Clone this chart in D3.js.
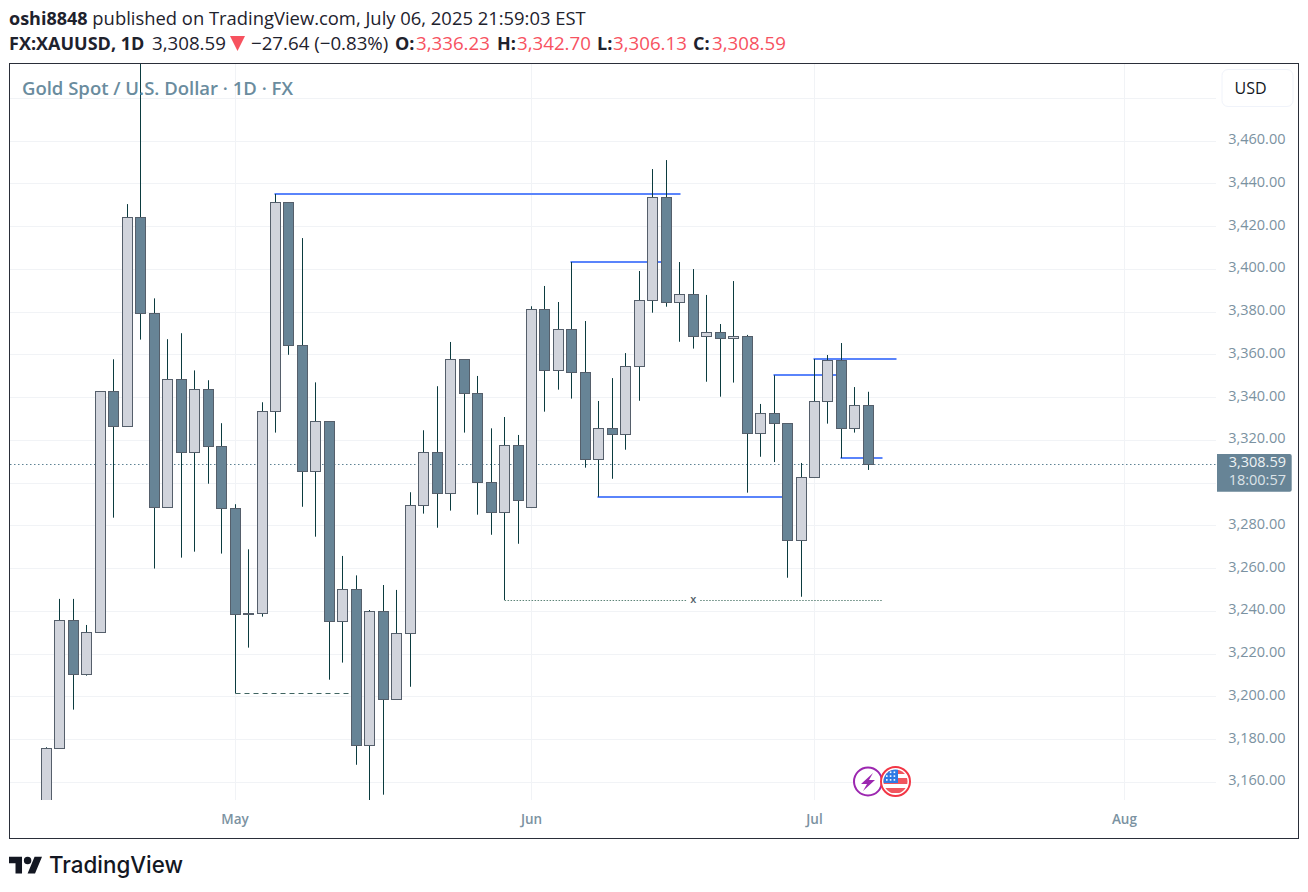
<!DOCTYPE html>
<html>
<head>
<meta charset="utf-8">
<title>XAUUSD 1D</title>
<script src="https://cdn.jsdelivr.net/npm/d3@7/dist/d3.min.js"></script>
<style>
  html, body { margin: 0; padding: 0; background: #fff; }
  svg { display: block; }
  text { font-family: "Open Sans", sans-serif; }
  .domain { display: none; }
</style>
</head>
<body>
<svg id="chart" width="1308" height="892"></svg>
<script>
// daily bars (first bars run off the bottom of the pane)
var opens = [3125, 3175.9, 3235.8, 3210.3, 3230.2, 3342.9, 3326.5, 3424.3, 3379.4, 3288.7,
  3348.5, 3314.4, 3343.9, 3317.2, 3288.2, 3239.2, 3239.1, 3333.6, 3431.3, 3364.4,
  3305.5, 3328.9, 3235.1, 3250.3, 3177.3, 3240, 3198.8, 3229.7, 3289.6, 3314.4,
  3295.2, 3357.9, 3342, 3300.3, 3286.1, 3317.7, 3288.7, 3381.3, 3352.7, 3371.9,
  3351.8, 3311.1, 3325.6, 3322.8, 3354.6, 3385.5, 3433.7, 3384.6, 3388.3, 3368.7,
  3370.5, 3367.7, 3368.7, 3323.3, 3332.6, 3328, 3273.2, 3302.7, 3338.2, 3357.4,
  3325.6, 3336.23];
var highs = [3176.4, 3245.8, 3245.8, 3233.6, 3343, 3357.9, 3430.5, 3500, 3386.4, 3367.3,
  3370.1, 3352.7, 3348.1, 3328, 3290.1, 3269, 3337.8, 3435.2, 3431.3, 3414.6,
  3347.1, 3328.9, 3265.9, 3256.8, 3240.6, 3252.3, 3250, 3295.7, 3324.7, 3345.3,
  3366, 3357.9, 3350.1, 3325.6, 3330.9, 3322.5, 3382.7, 3392.2, 3384.7, 3403.4,
  3375.8, 3338.4, 3349.1, 3360.8, 3399.2, 3446.9, 3451.1, 3403.4, 3400.1, 3388,
  3374.4, 3394.5, 3369.3, 3337, 3350.4, 3328, 3309.4, 3358, 3359.9, 3365.5,
  3344.9, 3342.7];
var lows = [3120, 3175.9, 3194, 3209.9, 3230.2, 3283.8, 3326.5, 3367.1, 3260, 3288.7,
  3265.1, 3267.9, 3299.7, 3267, 3201.6, 3223, 3237.5, 3323.6, 3360, 3288.9,
  3274.9, 3208, 3216, 3168.2, 3120, 3154.2, 3198.8, 3204.7, 3285.7, 3279.1,
  3287.1, 3323.6, 3285.2, 3275.8, 3245.3, 3271.6, 3288.7, 3333.4, 3343.7, 3339.5,
  3307.2, 3293.6, 3302, 3315.6, 3338.5, 3379.7, 3382.5, 3366.1, 3362.9, 3347.4,
  3340.4, 3347, 3295.5, 3312.3, 3309.8, 3255.7, 3246.8, 3302.7, 3327.8, 3311.7,
  3323.6, 3306.13];
var closes = [3175.9, 3235.8, 3210.3, 3230.2, 3342.9, 3326.5, 3424.3, 3379.4, 3288.7, 3348.5,
  3314.4, 3343.9, 3317.2, 3288.2, 3238.6, 3238.6, 3333.6, 3431.3, 3364.4, 3305.5,
  3328.9, 3235.1, 3250.3, 3177.3, 3240, 3198.8, 3229.7, 3289.6, 3314.4, 3295.2,
  3357.9, 3342, 3300.3, 3286.1, 3317.7, 3291.9, 3381.3, 3352.7, 3371.9, 3351.8,
  3311.1, 3325.6, 3322.8, 3354.6, 3385.5, 3433.7, 3384.6, 3388.3, 3368.7, 3370.5,
  3367.7, 3368.7, 3323.3, 3332.6, 3328, 3273.2, 3302.7, 3338.2, 3357.4, 3325.6,
  3336.4, 3308.59];

var gridPrices = [3480, 3460, 3440, 3420, 3400, 3380, 3360, 3340, 3320, 3300, 3280, 3260, 3240, 3220, 3200, 3180, 3160];
var labelPrices = [3460, 3440, 3420, 3400, 3380, 3360, 3340, 3320, 3280, 3260, 3240, 3220, 3200, 3180, 3160];
var monthBars = [14, 36, 57, 80];
var monthNames = ['May', 'Jun', 'Jul', 'Aug'];

// drawn levels: [price, first bar, last bar]
var blueLevels = [[3435.2, 17, 47], [3403.4, 39, 46], [3293.6, 41, 55], [3350.6, 54, 59], [3357.9, 57, 63], [3311.7, 59, 62]];
var dashedLevel = [3201.6, 14, 23];
var dottedLevel = [3245.1, 34, 62];
var lastPrice = 3308.59;
var countdown = '18:00:57';

var svg = d3.select('#chart');
var x = d3.scaleLinear().domain([0, 61]).range([46.4, 868.4]);
var y = d3.scaleLinear().domain([3480, 3160]).range([98.3, 782.3]);
var crisp = function (v) { return Math.floor(v) + 0.5; };
var dataIdx = d3.range(closes.length);

var paneRight = 1216, paneBottom = 800;
svg.append('defs').append('clipPath').attr('id', 'pane')
  .append('rect').attr('x', 10).attr('y', 64).attr('width', paneRight - 10).attr('height', paneBottom - 64);
svg.select('defs').append('clipPath').attr('id', 'flag')
  .append('circle').attr('cx', 895.5).attr('cy', 781.5).attr('r', 12);

// grid goes through the axis generators, ticks stretched across the pane
var yGrid = svg.append('g').attr('transform', 'translate(' + paneRight + ',0)')
  .call(d3.axisLeft(y).tickValues(gridPrices).tickSize(paneRight - 10).tickFormat(''));
yGrid.selectAll('.tick').attr('transform', function (d) { return 'translate(0,' + crisp(y(d)) + ')'; });
yGrid.selectAll('line').attr('stroke', '#f1f3f6');

var xGrid = svg.append('g').attr('transform', 'translate(0,' + paneBottom + ')')
  .call(d3.axisTop(x).tickValues(monthBars).tickSize(paneBottom - 64).tickFormat(''));
xGrid.selectAll('.tick').attr('transform', function (d) { return 'translate(' + crisp(x(d)) + ',0)'; });
xGrid.selectAll('line').attr('stroke', '#f1f3f6');

var pane = svg.append('g').attr('clip-path', 'url(#pane)');

pane.append('line').attr('x1', 10).attr('x2', paneRight)
  .attr('y1', crisp(y(lastPrice))).attr('y2', crisp(y(lastPrice)))
  .attr('stroke', '#5f8394').attr('stroke-dasharray', '1.5 2.5');

pane.selectAll('.level').data(blueLevels).enter().append('line').attr('class', 'level')
  .attr('x1', function (d) { return crisp(x(d[1])) - 1; })
  .attr('x2', function (d) { return crisp(x(d[2])) + 1; })
  .attr('y1', function (d) { return Math.round(y(d[0])); })
  .attr('y2', function (d) { return Math.round(y(d[0])); })
  .attr('stroke', '#5a84fb').attr('stroke-width', 2);

pane.append('line').attr('x1', crisp(x(dashedLevel[1]))).attr('x2', crisp(x(dashedLevel[2])))
  .attr('y1', crisp(y(dashedLevel[0]))).attr('y2', crisp(y(dashedLevel[0])))
  .attr('stroke', '#3f6461').attr('stroke-dasharray', '5 4');

var dotY = crisp(y(dottedLevel[0]));
var dotMid = x(48);
[[x(dottedLevel[1]), dotMid - 7], [dotMid + 7, x(dottedLevel[2])]].forEach(function (seg) {
  pane.append('line').attr('x1', seg[0]).attr('x2', seg[1]).attr('y1', dotY).attr('y2', dotY)
    .attr('stroke', '#5f8579').attr('stroke-dasharray', '1.5 1.5');
});

// wicks under the bodies
pane.selectAll('.wick').data(dataIdx).enter().append('line').attr('class', 'wick')
  .attr('x1', function (i) { return crisp(x(i)); })
  .attr('x2', function (i) { return crisp(x(i)); })
  .attr('y1', function (i) { return y(highs[i]); })
  .attr('y2', function (i) { return y(lows[i]); })
  .attr('stroke', '#0b3b3f');

pane.selectAll('.body').data(dataIdx).enter().append('rect').attr('class', 'body')
  .attr('x', function (i) { return crisp(x(i)) - 5; })
  .attr('width', 10)
  .attr('y', function (i) { return crisp(y(Math.max(opens[i], closes[i]))); })
  .attr('height', function (i) {
    return Math.max(1, crisp(y(Math.min(opens[i], closes[i]))) - crisp(y(Math.max(opens[i], closes[i]))));
  })
  .attr('fill', function (i) { return closes[i] >= opens[i] ? '#d1d4dc' : '#678496'; })
  .attr('stroke', '#555f6b');

pane.append('text').attr('x', dotMid).attr('y', dotY + 2.5).attr('text-anchor', 'middle')
  .attr('font-size', 11).attr('font-weight', 600).attr('fill', '#555f6b').text('x');

// price axis labels
var yLabels = svg.append('g').attr('transform', 'translate(1285.5,-2)')
  .call(d3.axisLeft(y).tickValues(labelPrices).tickSize(0).tickPadding(0).tickFormat(d3.format(',.2f')));
yLabels.selectAll('text').attr('font-size', 14.5).attr('fill', '#7b92a1')
  .style('font-family', '"Open Sans", sans-serif');

var xLabels = svg.append('g').attr('transform', 'translate(-0.5,814)')
  .call(d3.axisBottom(x).tickValues(monthBars).tickSize(0).tickPadding(0)
    .tickFormat(function (d) { return monthNames[monthBars.indexOf(d)]; }));
xLabels.selectAll('text').attr('font-size', 13.5).attr('font-weight', 600).attr('fill', '#7b92a1')
  .style('font-family', '"Open Sans", sans-serif');

// last price tag
svg.append('path').attr('d', 'M1217 454H1289.7a2 2 0 0 1 2 2V489.7a2 2 0 0 1 -2 2H1217Z').attr('fill', '#678496');
svg.append('text').attr('x', 1286).attr('y', 467).attr('text-anchor', 'end').attr('font-size', 14.5)
  .attr('fill', '#eef2f4').text(d3.format(',.2f')(lastPrice));
svg.append('text').attr('x', 1286).attr('y', 485).attr('text-anchor', 'end').attr('font-size', 14.5)
  .attr('fill', '#dce3e8').text(countdown);

// frame and pane furniture
svg.append('rect').attr('x', 9.5).attr('y', 63.5).attr('width', 1289).attr('height', 775)
  .attr('fill', 'none').attr('stroke', '#2a2e39');

svg.append('rect').attr('x', 1222).attr('y', 69.5).attr('width', 71).attr('height', 37).attr('rx', 6)
  .attr('fill', '#fff').attr('stroke', '#f0f3fa');
svg.append('text').attr('x', 1250.5).attr('y', 94).attr('text-anchor', 'middle').attr('font-size', 16)
  .attr('fill', '#131722').text('USD');

svg.append('text').attr('x', 22).attr('y', 95).attr('font-size', 18.5).attr('font-weight', 600)
  .attr('fill', '#6a8c9e').text('Gold Spot / U.S. Dollar · 1D · FX');

// header
var ink = '#1e222d', red = '#f7525f';
var line1 = svg.append('text').attr('x', 9).attr('y', 25).attr('font-size', 18.4).attr('fill', ink);
line1.append('tspan').attr('font-weight', 700).attr('font-size', 18).text('oshi8848');
line1.append('tspan').text(' published on TradingView.com, July 06, 2025 21:59:03 EST');

var headerBits = [
  ['FX:XAUUSD, 1D', 9, ink, 700, 18], ['3,308.59', 152, ink, 400, 18.7], ['−27.64 (−0.83%)', 251, ink, 400, 18.7],
  ['O:', 395, ink, 700, 18], ['3,336.23', 416, red, 400, 18.7], ['H:', 497, ink, 700, 18], ['3,342.70', 517, red, 400, 18.7],
  ['L:', 597, ink, 700, 18], ['3,306.13', 613, red, 400, 18.7], ['C:', 693, ink, 700, 18], ['3,308.59', 712, red, 400, 18.7]
];
svg.selectAll('.head').data(headerBits).enter().append('text').attr('class', 'head')
  .attr('x', function (d) { return d[1]; }).attr('y', 49.5).attr('font-size', function (d) { return d[4]; })
  .attr('fill', function (d) { return d[2]; }).attr('font-weight', function (d) { return d[3]; })
  .text(function (d) { return d[0]; });
svg.append('path').attr('d', 'M230 36H245L237.5 51Z').attr('fill', red);

// event badges
svg.append('circle').attr('cx', 868).attr('cy', 781.5).attr('r', 14).attr('fill', '#fff')
  .attr('stroke', '#9c27b0').attr('stroke-width', 2);
svg.append('path').attr('d', 'M873 773L861 784H867L863 791L875 780H869Z').attr('fill', '#9c27b0');

svg.append('circle').attr('cx', 895.5).attr('cy', 781.5).attr('r', 14.5).attr('fill', '#fff')
  .attr('stroke', '#f23645').attr('stroke-width', 2);
var flag = svg.append('g').attr('clip-path', 'url(#flag)');
[[770, 4], [778, 6], [788, 5]].forEach(function (s) {
  flag.append('rect').attr('x', 883).attr('y', s[0]).attr('width', 25).attr('height', s[1]).attr('fill', '#f0565f');
});
flag.append('rect').attr('x', 883).attr('y', 769).attr('width', 15).attr('height', 14).attr('fill', '#2f7ae5');
d3.range(3).forEach(function (r) {
  d3.range(3).forEach(function (c) {
    flag.append('rect').attr('x', 886 + c * 3.8).attr('y', 771.5 + r * 3.8).attr('width', 1.6).attr('height', 1.6).attr('fill', '#fff');
  });
});

// logo
var logo = svg.append('g').attr('transform', 'translate(9,853) scale(0.93)').attr('fill', '#131722');
logo.append('path').attr('d', 'M14 22H7V11H0V4h14v18zM28 22h-8l7.5-18h8L28 22z');
logo.append('circle').attr('cx', 20).attr('cy', 8).attr('r', 4);
svg.append('text').attr('x', 49).attr('y', 873).attr('font-size', 23).attr('font-weight', 500)
  .attr('textLength', 134).attr('lengthAdjust', 'spacingAndGlyphs')
  .style('font-family', 'Inter, sans-serif').attr('fill', '#131722').text('TradingView');
</script>
</body>
</html>
